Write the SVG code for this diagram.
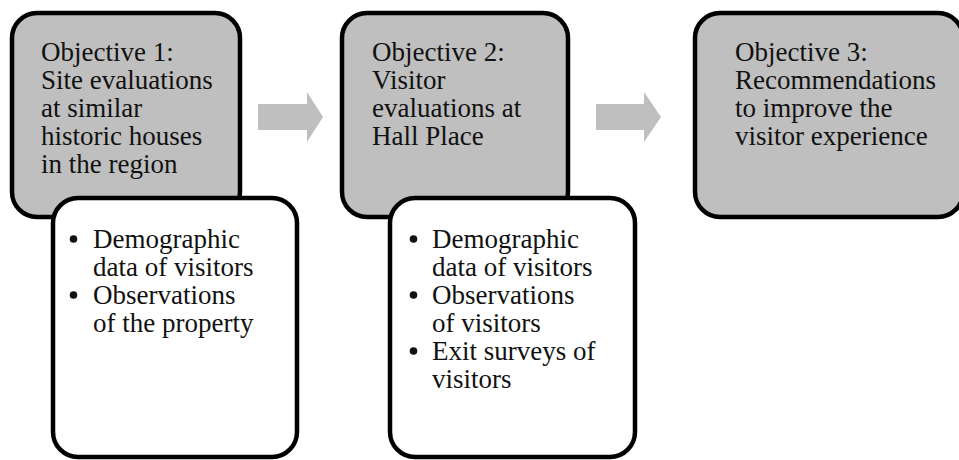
<svg xmlns="http://www.w3.org/2000/svg" width="959" height="460" viewBox="0 0 959 460">
<style>
.obj{fill:#BFBFBF;stroke:#000;stroke-width:4.5}
.det{fill:#FFF;stroke:#000;stroke-width:4.5}
.arr{fill:#BFBFBF;stroke:none}
.t{font-family:"Liberation Serif","Times New Roman",serif;font-size:27px;fill:#111}
.b{fill:#111}
</style>
<rect width="959" height="460" fill="#FFF"/>
<g id="connectors">
<polygon class="arr" points="258,104 307,104 307,92 323,117 307,142 307,130 258,130"/>
<polygon class="arr" points="596,104 644,104 644,92 661,117 644,142 644,130 596,130"/>
</g>
<g id="objective1">
<rect class="obj" x="12" y="13" width="228" height="204" rx="25"/>
<text class="t" x="41" y="61">Objective 1:</text>
<text class="t" x="41" y="89">Site evaluations</text>
<text class="t" x="41" y="117">at similar</text>
<text class="t" x="41" y="145">historic houses</text>
<text class="t" x="41" y="173">in the region</text>
</g>
<g id="objective2">
<rect class="obj" x="342" y="13" width="226" height="204" rx="25"/>
<text class="t" x="372" y="61">Objective 2:</text>
<text class="t" x="372" y="89">Visitor</text>
<text class="t" x="372" y="117">evaluations at</text>
<text class="t" x="372" y="145">Hall Place</text>
</g>
<g id="objective3">
<rect class="obj" x="695" y="13" width="268" height="204" rx="25"/>
<text class="t" x="735" y="61">Objective 3:</text>
<text class="t" x="735" y="89">Recommendations</text>
<text class="t" x="735" y="117">to improve the</text>
<text class="t" x="735" y="145">visitor experience</text>
</g>
<g id="details1">
<rect class="det" x="53" y="198" width="244" height="259" rx="25"/>
<circle class="b" cx="73.5" cy="239" r="3.8"/>
<text class="t" x="93" y="248">Demographic</text>
<text class="t" x="93" y="276">data of visitors</text>
<circle class="b" cx="73.5" cy="295" r="3.8"/>
<text class="t" x="93" y="304">Observations</text>
<text class="t" x="93" y="332">of the property</text>
</g>
<g id="details2">
<rect class="det" x="390" y="198" width="245" height="259" rx="25"/>
<circle class="b" cx="413.5" cy="239" r="3.8"/>
<text class="t" x="432" y="248">Demographic</text>
<text class="t" x="432" y="276">data of visitors</text>
<circle class="b" cx="413.5" cy="295" r="3.8"/>
<text class="t" x="432" y="304">Observations</text>
<text class="t" x="432" y="332">of visitors</text>
<circle class="b" cx="413.5" cy="351" r="3.8"/>
<text class="t" x="432" y="360">Exit surveys of</text>
<text class="t" x="432" y="388">visitors</text>
</g>
</svg>
